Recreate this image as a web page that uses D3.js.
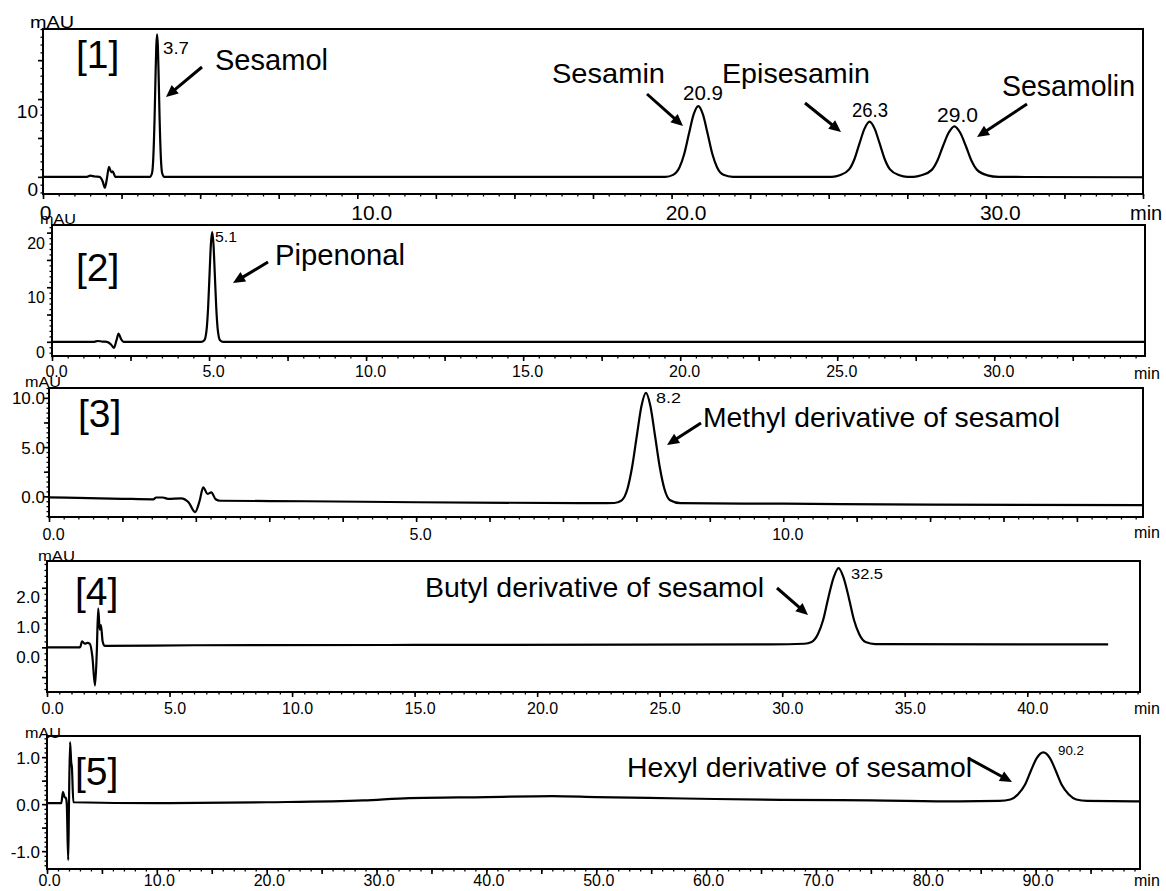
<!DOCTYPE html>
<html><head><meta charset="utf-8">
<script src="https://cdn.jsdelivr.net/npm/d3@7"></script>
<style>body{margin:0;background:#fff} svg{display:block}</style>
</head><body>
<svg id="chart" width="1166" height="891"></svg>
<script>
// ---------------- DATA ----------------
// each trace: [time (min), signal (mAU)]
const trace1 = [
 [0,0],[1.4,0],[1.5,0.15],[1.65,0.05],[1.8,0],[1.9,-0.6],[1.97,-1.4],[2.03,-0.3],[2.1,1.3],[2.17,0.6],[2.22,0.7],[2.3,0],[3.4,0],
 [3.47,0.5],[3.51,2.5],[3.55,7.5],[3.58,12.9],[3.605,16.8],[3.63,18.3],[3.655,16.8],[3.68,12.9],[3.71,7.5],[3.75,2.5],[3.79,0.5],[3.86,0],
 [19.8,0],[20.05,0.26],[20.25,1.2],[20.4,2.9],[20.55,5.5],[20.7,8.0],[20.85,9.1],[21.0,8.0],[21.15,5.5],[21.3,2.9],[21.45,1.2],[21.65,0.26],[21.95,0],
 [25.1,0],[25.35,0.2],[25.65,0.96],[25.82,2.3],[25.98,4.3],[26.14,6.2],[26.3,7.1],[26.46,6.2],[26.62,4.3],[26.78,2.3],[26.95,0.96],[27.25,0.2],[27.5,0],
 [27.7,0],[27.95,0.2],[28.28,0.9],[28.46,2.1],[28.64,4.0],[28.82,5.7],[29.0,6.5],[29.18,5.7],[29.36,4.0],[29.54,2.1],[29.72,0.9],[30.05,0.2],[30.4,0],
 [35,-0.05]
];
const trace2 = [
 [0,0],[1.35,0],[1.45,0.15],[1.6,0.05],[1.75,0],[1.88,-0.5],[1.97,-1.1],[2.05,0.2],[2.12,1.5],[2.2,0.5],[2.28,0],[4.75,0],
 [4.85,0.3],[4.92,2.1],[4.97,6.2],[5.02,12.9],[5.06,18.0],[5.1,20.1],[5.14,18.0],[5.18,12.9],[5.23,6.2],[5.28,2.1],[5.35,0.3],[5.45,0],
 [34.8,0]
];
const trace3 = [
 [0,-0.1],[1.0,-0.25],[1.42,-0.3],[1.46,-0.12],[1.55,-0.12],[1.62,-0.25],[1.8,-0.2],[1.9,-0.6],[1.99,-1.6],[2.05,-0.5],[2.1,0.9],
 [2.16,0.25],[2.21,0.4],[2.27,-0.3],[2.33,-0.45],[3.5,-0.5],[5,-0.6],[7.5,-0.7],
 [7.7,-0.68],[7.8,-0.4],[7.88,0.8],[7.94,2.9],[8.005,6.1],[8.07,9.2],[8.13,10.5],[8.19,9.2],[8.255,6.1],[8.32,2.9],[8.38,0.8],[8.46,-0.4],[8.6,-0.7],
 [10,-0.75],[12,-0.85],[14.9,-0.9]
];
const trace4 = [
 [0,0],[1.35,0],[1.43,0.2],[1.55,0.12],[1.65,0.15],[1.75,0.12],[1.85,-0.3],[1.96,-1.28],[2.03,-0.2],[2.09,1.31],[2.15,0.6],[2.2,0.75],
 [2.27,0.2],[2.35,0.05],[6,0.07],[15,0.08],[29.5,0.1],
 [30.9,0.12],[31.2,0.18],[31.46,0.45],[31.67,0.92],[31.88,1.66],[32.1,2.35],[32.3,2.66],[32.5,2.35],[32.72,1.66],[32.93,0.92],[33.14,0.45],[33.4,0.18],[33.8,0.11],
 [40,0.1],[43.3,0.1]
];
const trace5 = [
 [0,0.02],[1.3,0.02],[1.45,0.26],[1.6,0.15],[1.72,0.13],[1.8,0.0],[1.93,-1.19],[2.0,0.0],[2.1,1.32],[2.2,0.9],[2.27,0.77],[2.4,0.04],
 [10,0.02],[20,0.04],[28.8,0.08],[33,0.13],[40,0.15],[46,0.17],[50,0.15],[58,0.12],[66.8,0.09],[75,0.08],[83,0.06],[86.7,0.07],
 [87.7,0.1],[88.4,0.21],[89,0.4],[89.55,0.7],[90.1,0.98],[90.7,1.1],[91.3,0.98],[91.85,0.7],[92.4,0.4],[93,0.21],[93.7,0.1],[94.7,0.07],
 [99.5,0.06]
];

// tick labels
const p1XTicks = [0,10,20,30],        p1XLabels = ["0","10.0","20.0","30.0"];
const p1YTicks = [0,10],              p1YLabels = ["0","10"];
const p2XTicks = [0,5,10,15,20,25,30], p2XLabels = ["0.0","5.0","10.0","15.0","20.0","25.0","30.0"];
const p2YTicks = [0,10,20],           p2YLabels = ["0","10","20"];
const p3XTicks = [0,5,10],            p3XLabels = ["0.0","5.0","10.0"];
const p3YTicks = [0,5,10],            p3YLabels = ["0.0","5.0","10.0"];
const p4XTicks = [0,5,10,15,20,25,30,35,40], p4XLabels = ["0.0","5.0","10.0","15.0","20.0","25.0","30.0","35.0","40.0"];
const p4YTicks = [0,1,2],             p4YLabels = ["0.0","1.0","2.0"];
const p5XTicks = [0,10,20,30,40,50,60,70,80,90], p5XLabels = ["0.0","10.0","20.0","30.0","40.0","50.0","60.0","70.0","80.0","90.0"];
const p5YTicks = [-1,0,1],            p5YLabels = ["-1.0","0.0","1.0"];

// annotation texts
const panelTags = ["[1]","[2]","[3]","[4]","[5]"];
const p1Compounds = ["Sesamol","Sesamin","Episesamin","Sesamolin"];
const p1PeakTimes = ["3.7","20.9","26.3","29.0"];
const p2Compounds = ["Pipenonal"],  p2PeakTimes = ["5.1"];
const p3Compounds = ["Methyl derivative of sesamol"], p3PeakTimes = ["8.2"];
const p4Compounds = ["Butyl derivative of sesamol"],  p4PeakTimes = ["32.5"];
const p5Compounds = ["Hexyl derivative of sesamol"],  p5PeakTimes = ["90.2"];
const yUnit = "mAU", xUnit = "min";

// ---------------- LAYOUT ----------------
const FONT = "'Liberation Sans', Arial, Helvetica, sans-serif";
const panels = [
 {trace:trace1, f:{x0:43,x1:1143,y0:29,y1:194}, t:[0,35], v:[-2.2,19.0],
  xMinor:0.5, xMajor:2.5, xT:p1XTicks, xL:p1XLabels, xDx:[2,14,14,14], xLy:26, xFs:21,
  yMinor:1, yMajor:5, yT:p1YTicks, yL:p1YLabels, yLx:-5, yDy:12, yFs:19,
  unit:{x:30,y:28,fs:17,len:44}, min:{x:1130,y:220,fs:20},
  tag:{x:76,y:68}, names:p1Compounds, peaks:p1PeakTimes,
  nameLay:[{x:215,y:70,fs:29,len:113},{x:552,y:83,fs:28,len:113},{x:722,y:83,fs:28,len:148},{x:1002,y:96,fs:29,len:133}],
  peakLay:[{x:163,y:54,fs:17,len:26},{x:683,y:100,fs:20,len:40},{x:852,y:117,fs:20,len:36},{x:937,y:122,fs:20,len:41}],
  arrows:[[202,67,166,97],[647,94,683,126],[805,103,841,132],[1027,104,977,137]]},
 {trace:trace2, f:{x0:52,x1:1145,y0:225,y1:356}, t:[0,34.8], v:[-2.6,21.4],
  xMinor:0.5, xMajor:2.5, xT:p2XTicks, xL:p2XLabels, xDx:[4,4,4,4,4,4,4], xLy:21, xFs:16,
  yMinor:1, yMajor:5, yT:p2YTicks, yL:p2YLabels, yLx:-7, yDy:10, yFs:16,
  unit:{x:40,y:224,fs:15,len:36}, min:{x:1134,y:379,fs:16},
  tag:{x:76,y:281}, names:p2Compounds, peaks:p2PeakTimes,
  nameLay:[{x:275,y:265,fs:29,len:130}], peakLay:[{x:215,y:242,fs:15,len:22}],
  arrows:[[268,262,233,283]]},
 {trace:trace3, f:{x0:49,x1:1143,y0:388,y1:517}, t:[0,14.9], v:[-2.1,11.0],
  xMinor:0.2, xMajor:1, xT:p3XTicks, xL:p3XLabels, xDx:[4,4,4], xLy:23, xFs:16,
  yMinor:0.5, yMajor:2.5, yT:p3YTicks, yL:p3YLabels, yLx:-4, yDy:0, yFs:17,
  unit:{x:25,y:387,fs:15,len:36}, min:{x:1134,y:538,fs:16},
  tag:{x:78,y:427}, names:p3Compounds, peaks:p3PeakTimes,
  nameLay:[{x:703,y:427,fs:28,len:357}], peakLay:[{x:656,y:403,fs:15,len:25}],
  arrows:[[701,423,667,445]]},
 {trace:trace4, f:{x0:47,x1:1140,y0:561,y1:692}, t:[0,44.6], v:[-1.5,2.9],
  xMinor:0.5, xMajor:5, xT:p4XTicks, xL:p4XLabels, xDx:[5,5,5,5,5,5,5,5,5], xLy:22, xFs:16,
  yMinor:0.2, yMajor:1, yT:p4YTicks, yL:p4YLabels, yLx:-7, yDy:9, yFs:17,
  unit:{x:38,y:561,fs:15,len:37}, min:{x:1134,y:714,fs:16},
  tag:{x:75,y:605}, names:p4Compounds, peaks:p4PeakTimes,
  nameLay:[{x:425,y:597,fs:28,len:339}], peakLay:[{x:851,y:579,fs:15,len:32}],
  arrows:[[777,588,808,615]]},
 {trace:trace5, f:{x0:47,x1:1140,y0:736,y1:869}, t:[0,99.5], v:[-1.38,1.45],
  xMinor:1, xMajor:5, xT:p5XTicks, xL:p5XLabels, xDx:[2,2,2,2,2,2,2,2,2,2], xLy:17, xFs:16,
  yMinor:0.1, yMajor:0.5, yT:p5YTicks, yL:p5YLabels, yLx:-7, yDy:0, yFs:17,
  unit:{x:25,y:738,fs:15,len:36}, min:{x:1134,y:886,fs:16},
  tag:{x:75,y:785}, names:p5Compounds, peaks:p5PeakTimes,
  nameLay:[{x:627,y:777,fs:28,len:345}], peakLay:[{x:1058,y:755,fs:13,len:26}],
  arrows:[[968,758,1012,782]]}
];

// ---------------- DRAW ----------------
const svg = d3.select("#chart").style("font-family", FONT);
function stepTicks(dom, step){
  const a = Math.ceil(dom[0]/step - 1e-9), b = Math.floor(dom[1]/step + 1e-9);
  return d3.range(a, b+1).map(k => +(k*step).toFixed(6));
}

panels.forEach((p, pi) => {
  const g = svg.append("g");
  const x = d3.scaleLinear().domain(p.t).range([p.f.x0, p.f.x1]);
  const y = d3.scaleLinear().domain(p.v).range([p.f.y1, p.f.y0]);

  // minor / major ticks
  const tickLayer = (axis, tr, vals, size, sw) => {
    const a = g.append("g").attr("transform", tr)
      .call(axis.tickValues(vals).tickSize(size).tickFormat(""));
    a.select(".domain").remove();
    a.selectAll("line").attr("stroke", "#000").attr("stroke-width", sw);
    return a;
  };
  tickLayer(d3.axisBottom(x), `translate(0,${p.f.y1})`, stepTicks(p.t, p.xMinor), 2.5, 1.3);
  tickLayer(d3.axisBottom(x), `translate(0,${p.f.y1})`, stepTicks(p.t, p.xMajor), 5, 1.6);
  tickLayer(d3.axisLeft(y), `translate(${p.f.x0},0)`, stepTicks(p.v, p.yMinor), 2.5, 1.3);
  tickLayer(d3.axisLeft(y), `translate(${p.f.x0},0)`, stepTicks(p.v, p.yMajor), 5, 1.6);

  // labels
  const xl = g.append("g").attr("transform", `translate(0,${p.f.y1})`)
    .call(d3.axisBottom(x).tickValues(p.xT).tickSize(0).tickFormat((d,i) => p.xL[i]));
  xl.select(".domain").remove();
  xl.selectAll("text").attr("y", p.xLy).attr("dy", 0).attr("dx", (d,i) => p.xDx[i])
    .attr("font-size", p.xFs).attr("font-family", FONT).attr("fill", "#000");
  const yl = g.append("g").attr("transform", `translate(${p.f.x0},0)`)
    .call(d3.axisLeft(y).tickValues(p.yT).tickSize(0).tickFormat((d,i) => p.yL[i]));
  yl.select(".domain").remove();
  yl.selectAll("text").attr("x", p.yLx).attr("dy", "0.35em")
    .attr("transform", `translate(0,${p.yDy})`)
    .attr("font-size", p.yFs).attr("font-family", FONT).attr("fill", "#000");

  // trace
  const cid = "clip" + pi;
  svg.append("clipPath").attr("id", cid).append("rect")
    .attr("x", p.f.x0).attr("y", p.f.y0).attr("width", p.f.x1 - p.f.x0).attr("height", p.f.y1 - p.f.y0);
  g.append("path").datum(p.trace)
    .attr("clip-path", `url(#${cid})`)
    .attr("fill", "none").attr("stroke", "#000").attr("stroke-width", 2.2).attr("stroke-linejoin", "round")
    .attr("d", d3.line().x(d => x(d[0])).y(d => y(d[1])).curve(d3.curveMonotoneX));

  // frame
  g.append("rect").attr("x", p.f.x0).attr("y", p.f.y0)
    .attr("width", p.f.x1 - p.f.x0).attr("height", p.f.y1 - p.f.y0)
    .attr("fill", "none").attr("stroke", "#000").attr("stroke-width", 2);

  // units
  g.append("text").attr("x", p.unit.x).attr("y", p.unit.y).attr("font-size", p.unit.fs)
    .attr("textLength", p.unit.len).attr("lengthAdjust", "spacingAndGlyphs").text(yUnit);
  g.append("text").attr("x", p.min.x).attr("y", p.min.y).attr("font-size", p.min.fs).text(xUnit);

  // panel tag
  g.append("text").attr("x", p.tag.x).attr("y", p.tag.y).attr("font-size", 39).text(panelTags[pi]);

  // compound names & peak times
  p.names.forEach((n, i) => {
    const L = p.nameLay[i];
    g.append("text").attr("x", L.x).attr("y", L.y).attr("font-size", L.fs)
      .attr("textLength", L.len).attr("lengthAdjust", "spacingAndGlyphs").text(n);
  });
  p.peaks.forEach((n, i) => {
    const L = p.peakLay[i];
    g.append("text").attr("x", L.x).attr("y", L.y).attr("font-size", L.fs)
      .attr("textLength", L.len).attr("lengthAdjust", "spacingAndGlyphs").text(n);
  });

  // arrows
  p.arrows.forEach(([xa, ya, xb, yb]) => {
    const dx = xb - xa, dy = yb - ya, len = Math.hypot(dx, dy), ux = dx/len, uy = dy/len;
    const hl = 12, hw = 5.5;
    const bx = xb - ux*hl, by = yb - uy*hl;
    g.append("line").attr("x1", xa).attr("y1", ya).attr("x2", bx + ux*2).attr("y2", by + uy*2)
      .attr("stroke", "#000").attr("stroke-width", 3);
    g.append("path").attr("fill", "#000")
      .attr("d", `M${xb},${yb}L${bx - uy*hw},${by + ux*hw}L${bx + uy*hw},${by - ux*hw}Z`);
  });
});
</script>
</body></html>
